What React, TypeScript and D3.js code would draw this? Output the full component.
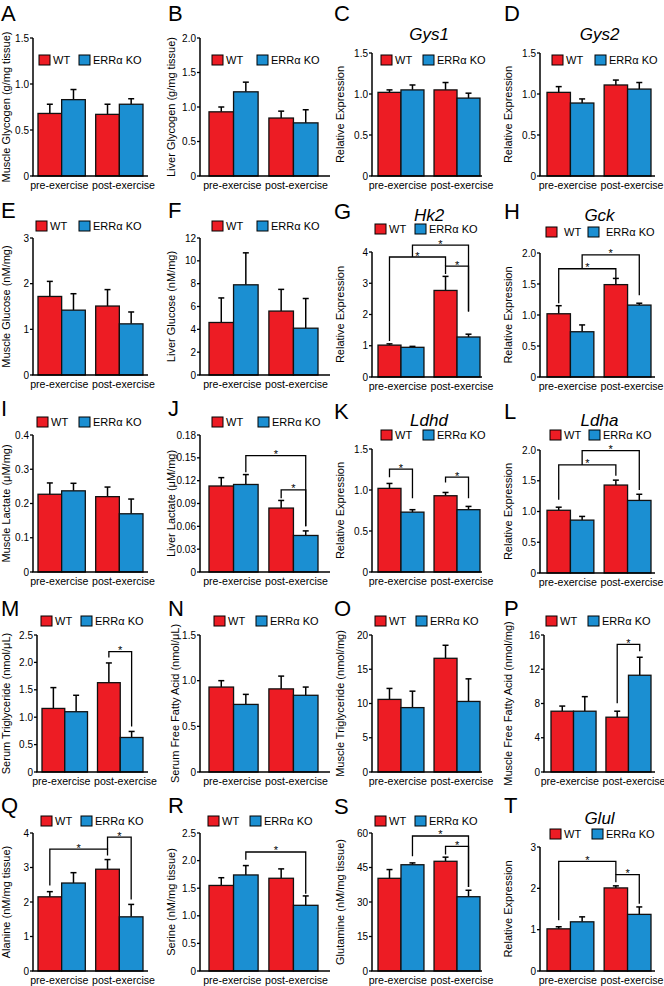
import React from "react";
import * as d3 from "d3";

const FONT = "'Liberation Sans', Arial, Helvetica, sans-serif";
const RED = "#ED1C24";
const BLUE = "#1B8FD2";

const groups = ["pre-exercise", "post-exercise"];
const genotypes = ["WT", "ERRα KO"];

// values in order: pre WT, pre KO, post WT, post KO
const muscleGlycogen = [0.68, 0.83, 0.67, 0.78];
const muscleGlycogenErr = [0.1, 0.11, 0.11, 0.06];
const liverGlycogen = [0.93, 1.22, 0.84, 0.77];
const liverGlycogenErr = [0.07, 0.14, 0.1, 0.19];
const gys1 = [1.02, 1.05, 1.05, 0.95];
const gys1Err = [0.03, 0.06, 0.09, 0.06];
const gys2 = [1.02, 0.89, 1.11, 1.06];
const gys2Err = [0.07, 0.05, 0.06, 0.08];
const muscleGlucose = [1.72, 1.42, 1.51, 1.12];
const muscleGlucoseErr = [0.33, 0.36, 0.36, 0.26];
const liverGlucose = [4.6, 7.9, 5.6, 4.1];
const liverGlucoseErr = [2.15, 2.8, 1.9, 2.6];
const hk2 = [1.02, 0.95, 2.77, 1.28];
const hk2Err = [0.04, 0.03, 0.45, 0.09];
const gck = [1.02, 0.73, 1.49, 1.16];
const gckErr = [0.13, 0.11, 0.1, 0.03];
const muscleLactate = [0.227, 0.237, 0.22, 0.17];
const muscleLactateErr = [0.033, 0.022, 0.028, 0.043];
const liverLactate = [0.113, 0.115, 0.084, 0.048];
const liverLactateErr = [0.011, 0.013, 0.01, 0.006];
const ldhd = [1.02, 0.73, 0.93, 0.76];
const ldhdErr = [0.06, 0.03, 0.04, 0.04];
const ldha = [1.02, 0.86, 1.43, 1.18];
const ldhaErr = [0.05, 0.06, 0.08, 0.1];
const serumTG = [1.16, 1.1, 1.63, 0.63];
const serumTGErr = [0.38, 0.3, 0.36, 0.11];
const serumFFA = [0.93, 0.74, 0.91, 0.84];
const serumFFAErr = [0.07, 0.11, 0.14, 0.09];
const muscleTG = [10.6, 9.4, 16.6, 10.3];
const muscleTGErr = [1.6, 2.4, 1.9, 3.3];
const muscleFFA = [7.1, 7.1, 6.4, 11.3];
const muscleFFAErr = [0.6, 1.7, 0.7, 2.1];
const alanine = [2.15, 2.55, 2.95, 1.57];
const alanineErr = [0.15, 0.3, 0.28, 0.36];
const serine = [1.55, 1.74, 1.68, 1.19];
const serineErr = [0.14, 0.17, 0.17, 0.17];
const glutamine = [40.3, 46.2, 47.7, 32.3];
const glutamineErr = [3.8, 0.8, 1.8, 2.8];
const glul = [1.02, 1.19, 2.01, 1.37];
const glulErr = [0.05, 0.12, 0.05, 0.18];

// significance brackets: [from bar, to bar, line level, left arm end, right arm end]
const hk2Sig = [[0, 2, 3.84, 1.15, 3.55], [2, 3, 3.55, 3.3, 2.1], [1, 3, 4.22, 3.84, 2.1]];
const gckSig = [[0, 2, 1.746, 1.19, 1.59], [1, 3, 1.97, 1.746, 1.32]];
const liverLactateSig = [[1, 3, 0.153, 0.131, 0.06], [2, 3, 0.108, 0.097, 0.06]];
const ldhdSig = [[0, 1, 1.255, 1.157, 0.9], [2, 3, 1.157, 1.09, 0.9]];
const ldhaSig = [[0, 2, 1.757, 1.19, 1.58], [1, 3, 1.99, 1.757, 1.35]];
const serumTGSig = [[2, 3, 2.197, 2.09, 0.83]];
const muscleFFASig = [[2, 3, 14.9, 8.04, 14.1]];
const alanineSig = [[0, 2, 3.53, 2.48, 3.35], [2, 3, 3.88, 3.53, 2.07]];
const serineSig = [[1, 3, 2.156, 2.017, 1.4]];
const glutamineSig = [[1, 3, 58.7, 49.9, 36.5], [2, 3, 54.2, 50.7, 36.5]];
const glulSig = [[0, 2, 2.65, 1.23, 2.33], [2, 3, 2.33, 2.15, 1.63]];

// tick values and labels
const t15 = [0, 0.5, 1, 1.5];
const t15Labels = ["0", "0.5", "1.0", "1.5"];
const t2 = [0, 0.5, 1, 1.5, 2];
const t2Labels = ["0", "0.5", "1.0", "1.5", "2.0"];
const t25 = [0, 0.5, 1, 1.5, 2, 2.5];
const t25Labels = ["0", "0.5", "1.0", "1.5", "2.0", "2.5"];
const t3 = [0, 1, 2, 3];
const t4 = [0, 1, 2, 3, 4];
const t12 = [0, 2, 4, 6, 8, 10, 12];
const t04 = [0, 0.1, 0.2, 0.3, 0.4];
const t04Labels = ["0", "0.1", "0.2", "0.3", "0.4"];
const t018 = [0, 0.03, 0.06, 0.09, 0.12, 0.15, 0.18];
const t018Labels = ["0", "0.03", "0.06", "0.09", "0.12", "0.15", "0.18"];
const t20 = [0, 5, 10, 15, 20];
const t16 = [0, 4, 8, 12, 16];
const t60 = [0, 15, 30, 45, 60];

// layout per column / row
const cols = [
  { x0: 33, x1: 148, pad: [5, 5], lab: 10, letter: 1 },
  { x0: 200, x1: 330, pad: [9, 12], lab: 175, letter: 168 },
  { x0: 372, x1: 482, pad: [6, 2], lab: 344, letter: 334 },
  { x0: 540, x1: 655, pad: [7, 4], lab: 512, letter: 504 },
];

const panels: any[] = [
  { id: "A", c: 0, letterY: 21, yTop: 38, yBot: 176, max: 1.5, ticks: t15, tl: t15Labels, v: muscleGlycogen, e: muscleGlycogenErr, yl: "Muscle Glycogen (g/mg tissue)", lg: [39, 79, 60] },
  { id: "B", c: 1, letterY: 21, yTop: 38, yBot: 176, max: 2, ticks: t2, tl: t2Labels, v: liverGlycogen, e: liverGlycogenErr, yl: "Liver Glycogen (g/mg tissue)", lg: [212, 257, 60] },
  { id: "C", c: 2, letterY: 21, yTop: 53, yBot: 176, max: 1.5, ticks: t15, tl: t15Labels, v: gys1, e: gys1Err, yl: "Relative Expression", title: "Gys1", titleY: 40, lg: [381, 423, 60] },
  { id: "D", c: 3, letterY: 21, yTop: 53, yBot: 176, max: 1.5, ticks: t15, tl: t15Labels, v: gys2, e: gys2Err, yl: "Relative Expression", title: "Gys2", titleY: 40, lg: [552, 595, 60] },
  { id: "E", c: 0, letterY: 218, yTop: 238, yBot: 375, max: 3, ticks: t3, v: muscleGlucose, e: muscleGlucoseErr, yl: "Muscle Glucose (nM/mg)", lg: [36, 79, 226] },
  { id: "F", c: 1, letterY: 218, yTop: 238, yBot: 375, max: 12, ticks: t12, v: liverGlucose, e: liverGlucoseErr, yl: "Liver Glucose (nM/mg)", lg: [212, 257, 226] },
  { id: "G", c: 2, letterY: 219, yTop: 252, yBot: 377, max: 4, ticks: t4, v: hk2, e: hk2Err, sig: hk2Sig, yl: "Relative Expression", title: "Hk2", titleY: 221, lg: [375, 415, 229] },
  { id: "H", c: 3, letterY: 219, yTop: 253, yBot: 377, max: 2, ticks: t2, tl: t2Labels, v: gck, e: gckErr, sig: gckSig, yl: "Relative Expression", title: "Gck", titleY: 221, lg: [546, 588, 232], gap: 18 },
  { id: "I", c: 0, letterY: 416, yTop: 435, yBot: 572, max: 0.4, ticks: t04, tl: t04Labels, v: muscleLactate, e: muscleLactateErr, yl: "Muscle Lactate (μM/mg)", lg: [37, 79, 422] },
  { id: "J", c: 1, letterY: 416, yTop: 435, yBot: 572, max: 0.18, ticks: t018, tl: t018Labels, v: liverLactate, e: liverLactateErr, sig: liverLactateSig, yl: "Liver Lactate (μM/mg)", lg: [212, 258, 422] },
  { id: "K", c: 2, letterY: 419, yTop: 449, yBot: 572, max: 1.5, ticks: t15, tl: t15Labels, v: ldhd, e: ldhdErr, sig: ldhdSig, yl: "Relative Expression", title: "Ldhd", titleY: 426, lg: [381, 423, 435] },
  { id: "L", c: 3, letterY: 419, yTop: 450, yBot: 573, max: 2, ticks: t2, tl: t2Labels, v: ldha, e: ldhaErr, sig: ldhaSig, yl: "Relative Expression", title: "Ldha", titleY: 426, lg: [550, 589, 435] },
  { id: "M", c: 0, x0: 37, letterY: 616, yTop: 635, yBot: 772, max: 2.5, ticks: t25, tl: t25Labels, v: serumTG, e: serumTGErr, sig: serumTGSig, yl: "Serum Triglyceride (nmol/μL)", lg: [41, 81, 621] },
  { id: "N", c: 1, letterY: 616, yTop: 635, yBot: 772, max: 1.5, ticks: t15, tl: t15Labels, v: serumFFA, e: serumFFAErr, yl: "Serum Free Fatty Acid (nmol/μL)", lg: [214, 256, 621], lab: 179 },
  { id: "O", c: 2, letterY: 616, yTop: 635, yBot: 772, max: 20, ticks: t20, v: muscleTG, e: muscleTGErr, yl: "Muscle Triglyceride (nmol/mg)", lg: [375, 416, 621] },
  { id: "P", c: 3, x0: 544, letterY: 616, yTop: 635, yBot: 772, max: 16, ticks: t16, v: muscleFFA, e: muscleFFAErr, sig: muscleFFASig, yl: "Muscle Free Fatty Acid (nmol/mg)", lg: [546, 588, 621] },
  { id: "Q", c: 0, letterY: 813, yTop: 833, yBot: 971, max: 4, ticks: t4, v: alanine, e: alanineErr, sig: alanineSig, yl: "Alanine (nM/mg tissue)", lg: [41, 81, 821] },
  { id: "R", c: 1, letterY: 813, yTop: 833, yBot: 971, max: 2.5, ticks: t25, tl: t25Labels, v: serine, e: serineErr, sig: serineSig, yl: "Serine (nM/mg tissue)", lg: [208, 250, 821] },
  { id: "S", c: 2, letterY: 814, yTop: 833, yBot: 971, max: 60, ticks: t60, v: glutamine, e: glutamineErr, sig: glutamineSig, yl: "Glutamine (nM/mg tissue)", lg: [375, 415, 821] },
  { id: "T", c: 3, letterY: 813, yTop: 847, yBot: 971, max: 3, ticks: t3, v: glul, e: glulErr, sig: glulSig, yl: "Relative Expression", title: "Glul", titleY: 824, lg: [550, 592, 834] },
];

function Panel({ p }: { p: any }) {
  const col = cols[p.c];
  const x0 = p.x0 ?? col.x0;
  const x1 = col.x1;
  const y = d3.scaleLinear().domain([0, p.max]).range([p.yBot, p.yTop]);
  const xg = d3
    .scaleBand()
    .domain(groups)
    .range([x0 + col.pad[0], x1 - col.pad[1]])
    .paddingInner(0.18);
  const xb = d3.scaleBand().domain(genotypes).range([0, xg.bandwidth()]);

  const bars = p.v.map((m: number, i: number) => {
    const x = (xg(groups[Math.floor(i / 2)]) as number) + (xb(genotypes[i % 2]) as number);
    return { x, w: xb.bandwidth(), m, e: p.e[i], fill: i % 2 ? BLUE : RED };
  });
  const cx = (i: number) => bars[i].x + bars[i].w / 2;
  const gapMid =
    ((xg(groups[0]) as number) + xg.bandwidth() + (xg(groups[1]) as number)) / 2;
  const labels = p.tl || p.ticks.map((t: number) => String(t));
  const labX = p.lab ?? col.lab;
  const textGap = p.gap ?? 14;

  return (
    <g>
      <text x={col.letter} y={p.letterY} fontSize={22} fill="#000">
        {p.id}
      </text>
      {p.title && (
        <text x={(x0 + x1) / 2 + 2} y={p.titleY} fontSize={17} fontStyle="italic" textAnchor="middle">
          {p.title}
        </text>
      )}
      {/* legend */}
      <rect x={p.lg[0]} y={p.lg[2] - 5} width={11} height={10} fill={RED} stroke="#000" strokeWidth={1} />
      <text x={p.lg[0] + textGap} y={p.lg[2] + 4} fontSize={11}>
        {genotypes[0]}
      </text>
      <rect x={p.lg[1]} y={p.lg[2] - 5} width={11} height={10} fill={BLUE} stroke="#000" strokeWidth={1} />
      <text x={p.lg[1] + textGap} y={p.lg[2] + 4} fontSize={11}>
        {genotypes[1]}
      </text>

      {/* bars */}
      {bars.map((b: any, i: number) => (
        <g key={i}>
          <line x1={b.x + b.w / 2} x2={b.x + b.w / 2} y1={y(b.m)} y2={y(b.m + b.e)} stroke="#000" strokeWidth={1.5} />
          <line x1={b.x + b.w / 2 - 3} x2={b.x + b.w / 2 + 3} y1={y(b.m + b.e)} y2={y(b.m + b.e)} stroke="#000" strokeWidth={1.5} />
          <rect x={b.x} y={y(b.m)} width={b.w} height={y(0) - y(b.m)} fill={b.fill} stroke="#111" strokeWidth={1.3} />
        </g>
      ))}

      {/* significance */}
      {(p.sig || []).map((s: number[], i: number) => {
        const xl = cx(s[0]);
        const xr = cx(s[1]);
        const yl = y(s[2]);
        return (
          <g key={"s" + i}>
            <path
              d={`M${xl},${y(s[3])}V${yl}H${xr}V${y(s[4])}`}
              fill="none"
              stroke="#000"
              strokeWidth={1.3}
            />
            <text x={(xl + xr) / 2} y={yl + 2.5} fontSize={11} textAnchor="middle">
              *
            </text>
          </g>
        );
      })}

      {/* y axis */}
      <line x1={x0} x2={x0} y1={y(0)} y2={y(p.max)} stroke="#000" strokeWidth={1.5} />
      {p.ticks.map((t: number, i: number) => (
        <g key={"t" + i}>
          <line x1={x0 - 3} x2={x0} y1={y(t)} y2={y(t)} stroke="#000" strokeWidth={1.3} />
          <text x={x0 - 4} y={y(t) + 3.5} fontSize={10} textAnchor="end">
            {labels[i]}
          </text>
        </g>
      ))}
      <text
        transform={`translate(${labX},${(p.yTop + p.yBot) / 2}) rotate(-90)`}
        fontSize={11}
        textAnchor="middle"
      >
        {p.yl}
      </text>

      {/* x axis */}
      <line x1={x0 - 0.75} x2={x1} y1={y(0)} y2={y(0)} stroke="#000" strokeWidth={1.5} />
      <text x={gapMid - 2} y={y(0) + 13} fontSize={10.6} textAnchor="end">
        {groups[0]}
      </text>
      <text x={gapMid + 1.5} y={y(0) + 13} fontSize={10.6} textAnchor="start">
        {groups[1]}
      </text>
    </g>
  );
}

export default function App() {
  return (
    <svg
      width={664}
      height={986}
      style={{ position: "absolute", left: 0, top: 0, background: "#fff" }}
      fontFamily={FONT}
    >
      <rect width={664} height={986} fill="#fff" />
      {panels.map((p) => (
        <Panel key={p.id} p={p} />
      ))}
    </svg>
  );
}
